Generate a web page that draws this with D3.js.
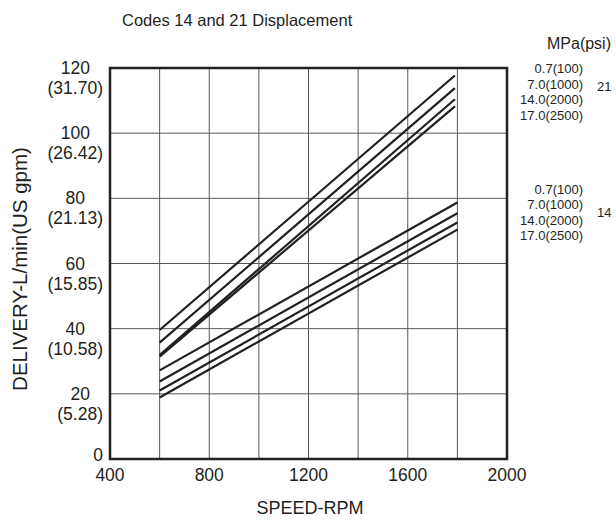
<!DOCTYPE html>
<html>
<head>
<meta charset="utf-8">
<script src="https://cdn.jsdelivr.net/npm/d3@7"></script>
<style>
  html, body { margin: 0; padding: 0; background: #fff; }
  svg { display: block; font-family: "Liberation Sans", Arial, Helvetica, sans-serif; }
</style>
</head>
<body>
<svg id="chart" width="616" height="520"></svg>
<script>
// ---- data ----
const speedTicks = [400, 800, 1200, 1600, 2000];
const speedGrid = [600, 800, 1000, 1200, 1400, 1600, 1800];
const deliveryTicks = [0, 20, 40, 60, 80, 100, 120];
const gpmLabels = ["", "(5.28)", "(10.58)", "(15.85)", "(21.13)", "(26.42)", "(31.70)"];
const pressureLabels = ["0.7(100)", "7.0(1000)", "14.0(2000)", "17.0(2500)"];
const codes = ["21", "14"];

// delivery (L/min) at start / end speed for each pressure line
const code21Speeds = [600, 1790];
const code21Start = [39.6, 35.7, 31.9, 31.4];
const code21End = [117.7, 113.8, 110.4, 108.2];
const code14Speeds = [600, 1800];
const code14Start = [27.2, 23.8, 21.0, 18.9];
const code14End = [78.7, 75.4, 72.6, 70.4];

const title = "Codes 14 and 21 Displacement";
const xTitle = "SPEED-RPM";
const yTitle = "DELIVERY-L/min(US gpm)";
const unitTitle = "MPa(psi)";

// ---- layout ----
const svg = d3.select("#chart");
const ink = "#231f20";
const x = d3.scaleLinear().domain([400, 2000]).range([110, 507]);
const y = d3.scaleLinear().domain([0, 120]).range([459, 68]);

// gridlines
svg.append("g").selectAll("line").data(speedGrid).join("line")
  .attr("x1", d => x(d)).attr("x2", d => x(d))
  .attr("y1", y(0)).attr("y2", y(120))
  .attr("stroke", "#58595b").attr("stroke-width", 1);
svg.append("g").selectAll("line").data(deliveryTicks.filter(d => d > 0 && d < 120)).join("line")
  .attr("x1", x(400)).attr("x2", x(2000))
  .attr("y1", d => y(d)).attr("y2", d => y(d))
  .attr("stroke", "#58595b").attr("stroke-width", 1);

// series lines
const series = [];
code21Start.forEach((s, i) => series.push([[code21Speeds[0], s], [code21Speeds[1], code21End[i]]]));
code14Start.forEach((s, i) => series.push([[code14Speeds[0], s], [code14Speeds[1], code14End[i]]]));
const line = d3.line().x(d => x(d[0])).y(d => y(d[1]));
svg.append("g").selectAll("path").data(series).join("path")
  .attr("d", line).attr("fill", "none")
  .attr("stroke", ink).attr("stroke-width", 2.2);

// frame
svg.append("rect")
  .attr("x", x(400)).attr("y", y(120))
  .attr("width", x(2000) - x(400)).attr("height", y(0) - y(120))
  .attr("fill", "none").attr("stroke", ink).attr("stroke-width", 2.5);

// x tick labels
svg.append("g").selectAll("text").data(speedTicks).join("text")
  .attr("x", d => x(d)).attr("y", 475)
  .attr("text-anchor", "middle").attr("dominant-baseline", "central")
  .attr("font-size", 17.5).attr("fill", ink)
  .text(d => d);

// y tick labels: two-line blocks, right-aligned as a block, lines centred
const yl = svg.append("g");
deliveryTicks.forEach((d, i) => {
  const g = yl.append("g");
  const t1 = g.append("text").attr("y", y(d) + (d === 0 ? -4 : 0))
    .attr("dominant-baseline", "central").attr("text-anchor", "middle")
    .attr("font-size", 17.5).attr("fill", ink).text(d);
  let w = t1.node().getComputedTextLength();
  let t2 = null;
  if (gpmLabels[i]) {
    t2 = g.append("text").attr("y", y(d) + 20)
      .attr("dominant-baseline", "central").attr("text-anchor", "middle")
      .attr("font-size", 17.5).attr("fill", ink).text(gpmLabels[i]);
    w = Math.max(w, t2.node().getComputedTextLength());
  }
  const cx = 103 - w / 2;
  t1.attr("x", cx);
  if (t2) t2.attr("x", cx);
});

// right-hand pressure labels
const labelRows = [[68, 84, 99.5, 115], [189, 204.5, 220, 235.5]];
const codeY = [86, 212];
codes.forEach((c, k) => {
  svg.append("g").selectAll("text").data(pressureLabels).join("text")
    .attr("x", 583).attr("y", (d, i) => labelRows[k][i])
    .attr("text-anchor", "end").attr("dominant-baseline", "central")
    .attr("font-size", 13).attr("fill", ink).text(d => d);
  svg.append("text").attr("x", 597).attr("y", codeY[k])
    .attr("dominant-baseline", "central")
    .attr("font-size", 13).attr("fill", ink).text(c);
});

// titles
svg.append("text").attr("x", 122).attr("y", 20)
  .attr("dominant-baseline", "central").attr("font-size", 16.5).attr("fill", ink).text(title);
svg.append("text").attr("x", 611).attr("y", 43)
  .attr("text-anchor", "end").attr("dominant-baseline", "central")
  .attr("font-size", 16).attr("fill", ink).text(unitTitle);
svg.append("text").attr("x", 310).attr("y", 508)
  .attr("text-anchor", "middle").attr("dominant-baseline", "central")
  .attr("font-size", 18).attr("fill", ink).text(xTitle);
svg.append("text")
  .attr("transform", "translate(19,269) rotate(-90)")
  .attr("text-anchor", "middle").attr("dominant-baseline", "central")
  .attr("font-size", 20.5).attr("fill", ink).text(yTitle);
</script>
</body>
</html>
